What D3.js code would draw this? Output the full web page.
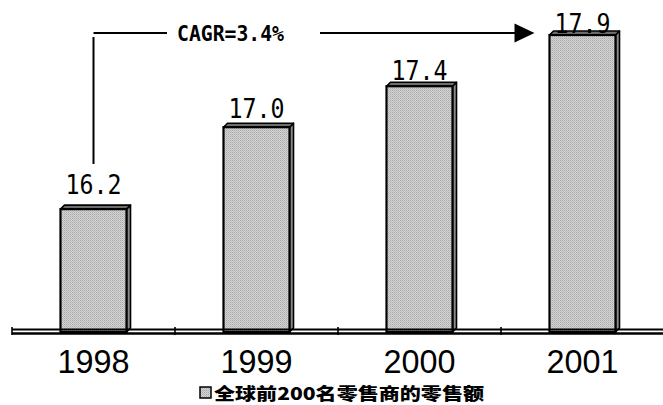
<!DOCTYPE html>
<html>
<head>
<meta charset="utf-8">
<script src="https://cdn.jsdelivr.net/npm/d3@7/dist/d3.min.js"></script>
<style>
  html, body { margin: 0; padding: 0; background: #fff; }
  svg { display: block; }
</style>
</head>
<body>
<svg id="chart" width="663" height="405"></svg>
<script>
// ---- data ----
const categories = ["1998", "1999", "2000", "2001"];
const values = [16.2, 17.0, 17.4, 17.9];
const valueLabels = ["16.2", "17.0", "17.4", "17.9"];
const seriesName = "全球前200名零售商的零售额";
const cagrLabel = "CAGR=3.4%";

const W = 663, H = 405;
const svg = d3.select("#chart");

// ---- scales ----
const x = d3.scaleBand()
  .domain(categories)
  .range([12, 664])
  .paddingInner(0.595)
  .paddingOuter(0.2975);

const y = d3.scaleLinear().domain([15, 18]).range([332, 24.8]);
// label baseline positions (labels sit closer to taller bars in the original)
const yLabel = d3.scaleLinear().domain([15, 18]).range([307.6, 23.5]);

const depth = 4;

// ---- pattern ----
const defs = svg.append("defs");
const pat = defs.append("pattern")
  .attr("id", "hatch")
  .attr("patternUnits", "userSpaceOnUse")
  .attr("width", 2).attr("height", 2);
pat.append("rect").attr("width", 2).attr("height", 2).attr("fill", "#d4d4d4");
pat.append("rect").attr("x", 0).attr("y", 0).attr("width", 1).attr("height", 1).attr("fill", "#a8a8a8");
pat.append("rect").attr("x", 1).attr("y", 1).attr("width", 1).attr("height", 1).attr("fill", "#bdbdbd");

// ---- bars ----
const g = svg.append("g");
const bars = g.selectAll("g.bar").data(categories).enter().append("g").attr("class", "bar");

bars.each(function(c, i) {
  const sel = d3.select(this);
  const x0 = x(c), bw = x.bandwidth();
  const yt = y(values[i]), yb = y(15);
  // side face
  sel.append("path")
    .attr("d", `M${x0 + bw},${yt} L${x0 + bw + depth},${yt - depth} L${x0 + bw + depth},${yb - depth} L${x0 + bw},${yb} Z`)
    .attr("fill", "#8a8a8a").attr("stroke", "#000").attr("stroke-width", 1.6).attr("stroke-linejoin", "round");
  // top face
  sel.append("path")
    .attr("d", `M${x0},${yt} L${x0 + depth},${yt - depth} L${x0 + bw + depth},${yt - depth} L${x0 + bw},${yt} Z`)
    .attr("fill", "#6e6e6e").attr("stroke", "#000").attr("stroke-width", 1.6).attr("stroke-linejoin", "round");
  // front face
  sel.append("rect")
    .attr("x", x0).attr("y", yt)
    .attr("width", bw).attr("height", yb - yt)
    .attr("fill", "url(#hatch)").attr("stroke", "#000").attr("stroke-width", 2.2);
});

// ---- floor ----
const floorLeft = x.range()[0], floorRight = W;
g.append("line").attr("x1", floorLeft).attr("x2", floorRight)
  .attr("y1", y(15) - 2.5).attr("y2", y(15) - 2.5)
  .attr("stroke", "#000").attr("stroke-width", 1.8);
g.append("line").attr("x1", floorLeft).attr("x2", floorRight)
  .attr("y1", y(15) + 1.5).attr("y2", y(15) + 1.5)
  .attr("stroke", "#000").attr("stroke-width", 2.6);

// category separator ticks
const tickXs = [x.range()[0]].concat(categories.slice(1).map(c => x(c) - x.step() * x.paddingInner() / 2));
g.selectAll("line.tick").data(tickXs).enter().append("line")
  .attr("class", "tick")
  .attr("x1", d => d).attr("x2", d => d)
  .attr("y1", y(15) - 5).attr("y2", y(15) + 3)
  .attr("stroke", "#000").attr("stroke-width", 1.6);

// ---- value labels ----
g.selectAll("text.val").data(categories).enter().append("text")
  .attr("class", "val")
  .attr("x", c => x(c) + x.bandwidth() / 2 - 28)
  .attr("y", (c, i) => yLabel(values[i]))
  .attr("font-family", "'DejaVu Sans Mono', monospace")
  .attr("font-size", 27)
  .attr("textLength", 56)
  .attr("lengthAdjust", "spacingAndGlyphs")
  .attr("fill", "#000")
  .text((c, i) => valueLabels[i]);

// ---- category labels ----
g.selectAll("text.cat").data(categories).enter().append("text")
  .attr("class", "cat")
  .attr("x", c => x(c) + x.bandwidth() / 2 - 36)
  .attr("y", 372.5)
  .attr("font-family", "'Liberation Sans', Arial, sans-serif")
  .attr("font-size", 33)
  .attr("textLength", 72)
  .attr("lengthAdjust", "spacingAndGlyphs")
  .attr("fill", "#000")
  .text(c => c);

// ---- CAGR annotation ----
const ax0 = x(categories[0]) + x.bandwidth() / 2;
const ax1 = x(categories[categories.length - 1]) - 15;
const ay = y(values[values.length - 1]) - 2;
const ann = svg.append("g");
ann.append("line").attr("x1", ax0).attr("x2", ax0)
  .attr("y1", ay + 4).attr("y2", yLabel(values[0]) - 30)
  .attr("stroke", "#000").attr("stroke-width", 2);
ann.append("line").attr("x1", ax0).attr("x2", 167)
  .attr("y1", ay).attr("y2", ay)
  .attr("stroke", "#000").attr("stroke-width", 2);
ann.append("text")
  .attr("x", 177).attr("y", ay + 8)
  .attr("font-family", "'DejaVu Sans Mono', monospace")
  .attr("font-weight", "bold")
  .attr("font-size", 21)
  .attr("textLength", 107)
  .attr("lengthAdjust", "spacingAndGlyphs")
  .attr("fill", "#000")
  .text(cagrLabel);
ann.append("line").attr("x1", 320).attr("x2", ax1 - 18)
  .attr("y1", ay).attr("y2", ay)
  .attr("stroke", "#000").attr("stroke-width", 2);
ann.append("path")
  .attr("d", `M${ax1 - 20},${ay - 9.5} L${ax1},${ay} L${ax1 - 20},${ay + 9.5} Z`)
  .attr("fill", "#000");

// ---- legend ----
const leg = svg.append("g");
leg.append("rect").attr("x", 200).attr("y", 387).attr("width", 11).attr("height", 11)
  .attr("fill", "url(#hatch)").attr("stroke", "#000").attr("stroke-width", 1.5);
leg.append("text")
  .attr("x", 214).attr("y", 399.6)
  .attr("font-family", "'Noto Sans CJK SC', sans-serif")
  .attr("font-weight", "900")
  .attr("font-size", 17.5)
  .attr("textLength", 270)
  .attr("lengthAdjust", "spacingAndGlyphs")
  .attr("fill", "#000")
  .text(seriesName);
</script>
</body>
</html>
